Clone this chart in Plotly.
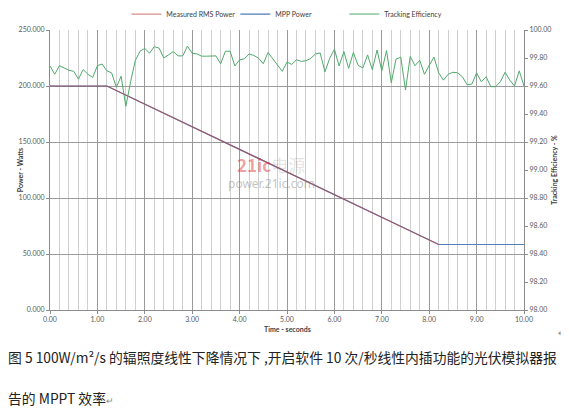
import plotly.graph_objects as go

# power curves (breakpoints)
power_time = [0.0, 1.2, 8.2, 10.0]
mpp_power = [200, 200, 58.5, 58.5]
measured_time = [0.0, 1.2, 8.2]
measured_power = [200, 200, 58.5]

# tracking efficiency, sampled 10 times per second
efficiency = [
    99.743, 99.684, 99.745, 99.729, 99.712, 99.705, 99.649, 99.717, 99.684, 99.661,
    99.745, 99.757, 99.708, 99.694, 99.591, 99.670, 99.455, 99.630, 99.783, 99.848,
    99.869, 99.834, 99.881, 99.871, 99.801, 99.822, 99.846, 99.815, 99.815, 99.885,
    99.834, 99.829, 99.813, 99.813, 99.815, 99.815, 99.759, 99.848, 99.848, 99.743,
    99.787, 99.794, 99.829, 99.818, 99.799, 99.759, 99.839, 99.794, 99.752, 99.705,
    99.771, 99.754, 99.787, 99.776, 99.780, 99.797, 99.829, 99.836, 99.701, 99.797,
    99.862, 99.743, 99.846, 99.726, 99.839, 99.747, 99.729, 99.822, 99.717, 99.857,
    99.708, 99.853, 99.623, 99.792, 99.806, 99.572, 99.811, 99.745, 99.783, 99.684,
    99.747, 99.806, 99.694, 99.642, 99.684, 99.698, 99.694, 99.666, 99.609, 99.614,
    99.694, 99.630, 99.666, 99.595, 99.595, 99.630, 99.698, 99.642, 99.600, 99.708,
    99.600,
]
eff_time = [round(i * 0.1, 1) for i in range(len(efficiency))]

font_small = dict(family="Lato, Open Sans, sans-serif", size=7, color="#595959")

fig = go.Figure()
fig.add_trace(go.Scatter(x=power_time, y=mpp_power, mode="lines", name="MPP Power",
                         line=dict(color="#4f7fb8", width=1.2), legendrank=2))
fig.add_trace(go.Scatter(x=measured_time, y=measured_power, mode="lines", name="Measured RMS Power",
                         line=dict(color="rgba(192,60,60,0.6)", width=1.2), legendrank=1))
fig.add_trace(go.Scatter(x=eff_time, y=efficiency, mode="lines", name="Tracking Efficiency",
                         line=dict(color="#4faa6c", width=1), yaxis="y2", legendrank=3))

# the page body adds an 8px offset, so the figure is 8px smaller than the window
fig.update_layout(
    width=561, height=402,
    margin=dict(l=42, r=45, t=22, b=100, autoexpand=False),
    paper_bgcolor="white", plot_bgcolor="white",
    font=font_small,
    showlegend=True,
    legend=dict(orientation="h", x=0.506, xanchor="center", y=1.057, yanchor="middle",
                font=dict(family="Lato, Open Sans, sans-serif", size=7, color="#404040"),
                itemwidth=30, entrywidth=64,
                bgcolor="rgba(0,0,0,0)"),
    xaxis=dict(range=[0, 10], dtick=1, tickformat=".2f", showgrid=True,
               gridcolor="#9a9a9a", gridwidth=1,
               minor=dict(dtick=0.2, showgrid=True, gridcolor="#cfcfcf", gridwidth=1),
               showline=True, linecolor="#8c8c8c", ticks="outside", ticklen=3,
               tickcolor="#8c8c8c", zeroline=False, tickfont=font_small),
    yaxis=dict(range=[0, 250], dtick=50, tickformat=".3f", showgrid=True,
               gridcolor="#9a9a9a", gridwidth=1, showline=True, linecolor="#8c8c8c",
               ticks="outside", ticklen=3, tickcolor="#8c8c8c", zeroline=False,
               tickfont=font_small),
    yaxis2=dict(range=[98, 100], dtick=0.2, tickformat=".2f", overlaying="y",
                side="right", showgrid=False, showline=True, linecolor="#8c8c8c",
                ticks="outside", ticklen=3, tickcolor="#8c8c8c", zeroline=False,
                tickfont=font_small),
)

bold = dict(family="Lato, Open Sans, sans-serif", size=7, color="#404040")
fig.add_annotation(text="<b>Time - seconds</b>", xref="paper", yref="paper",
                   x=0.5, y=-0.068, xanchor="center", yanchor="middle",
                   showarrow=False, font=bold)
fig.add_annotation(text="<b>Power - Watts</b>", xref="paper", yref="paper",
                   x=-0.063, y=0.5, xanchor="center", yanchor="middle", textangle=-90,
                   showarrow=False, font=bold)
fig.add_annotation(text="<b>Tracking Efficiency - %</b>", xref="paper", yref="paper",
                   x=1.063, y=0.5, xanchor="center", yanchor="middle", textangle=-90,
                   showarrow=False, font=bold)

# watermark
fig.add_annotation(text="<b>21ic</b><span style='color:rgba(120,120,120,0.45)'>电源</span>",
                   xref="paper", yref="paper", x=0.467, y=0.518, xanchor="center",
                   yanchor="middle", showarrow=False,
                   font=dict(family="Noto Sans CJK SC", size=17, color="rgba(220,40,40,0.45)"))
fig.add_annotation(text="power.21ic.com", xref="paper", yref="paper", x=0.467, y=0.452,
                   xanchor="center", yanchor="middle", showarrow=False,
                   font=dict(family="Noto Sans, sans-serif", size=12, color="rgba(120,120,120,0.45)"))

# caption below the chart
cap_font = dict(family="Noto Sans CJK SC", size=13.8, color="#222222")
fig.add_annotation(text="图 5 100W/m²/s 的辐照度线性下降情况下 ,开启软件 10 次/秒线性内插功能的光伏模拟器报",
                   xref="paper", yref="paper", x=-0.093, y=-0.168, xanchor="left",
                   yanchor="middle", showarrow=False, font=cap_font)
fig.add_annotation(text="告的 MPPT 效率<span style='font-size:9px;color:#888888'>↵</span>",
                   xref="paper", yref="paper", x=-0.093, y=-0.316, xanchor="left",
                   yanchor="middle", showarrow=False, font=cap_font)
fig.add_annotation(text="↵", xref="paper", yref="paper", x=1.08, y=-0.079,
                   xanchor="center", yanchor="middle", showarrow=False,
                   font=dict(size=9, color="#888888"))

fig.write_html("out.html")
